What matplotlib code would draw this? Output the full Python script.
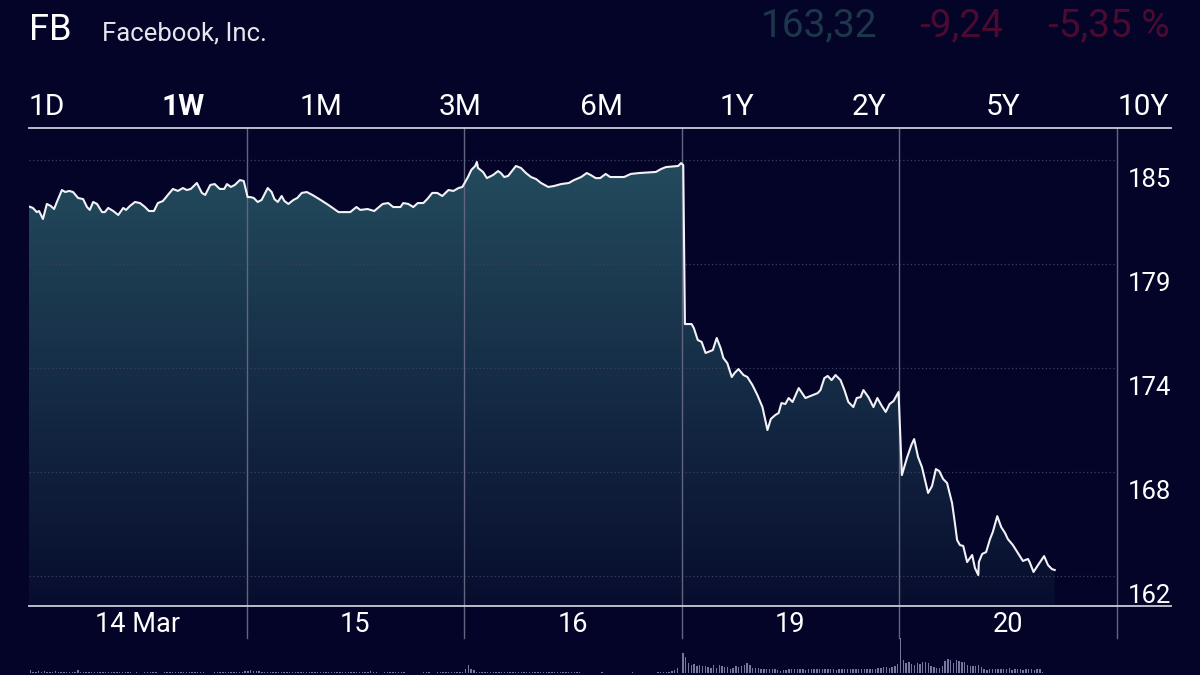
import matplotlib.pyplot as plt
import matplotlib.transforms as mtransforms
from matplotlib.patches import PathPatch
import numpy as np

plt.rcParams['font.family'] = ['Roboto', 'DejaVu Sans']

# ---- data ----
day_labels = ['14 Mar', '15', '16', '19', '20']
periods = ['1D', '1W', '1M', '3M', '6M', '1Y', '2Y', '5Y', '10Y']
grid_levels = [185.1, 179.35, 173.6, 167.85, 162.1]

# minutes since open, price
d14_min = [0, 7, 14, 18, 25, 32, 39, 45, 50, 59, 65, 72, 79, 88, 97, 104, 109, 115, 122, 131,
           136, 142, 151, 160, 169, 174, 181, 190, 199, 208, 215, 224, 231, 240, 249, 258, 267,
           276, 283, 290, 301, 310, 316, 325, 333, 342, 350, 355, 362, 369, 378, 385]
d14_px = [182.53, 182.45, 182.22, 182.28, 181.84, 182.67, 182.56, 182.39, 182.78, 183.44, 183.33,
          183.39, 183.33, 183.00, 182.94, 182.50, 182.34, 182.78, 182.67, 182.22, 182.22, 182.45,
          182.28, 182.06, 182.45, 182.34, 182.56, 182.78, 182.72, 182.50, 182.28, 182.28, 182.72,
          182.83, 183.17, 183.50, 183.39, 183.55, 183.44, 183.50, 183.83, 183.28, 183.17, 183.72,
          183.77, 183.50, 183.50, 183.77, 183.61, 183.72, 183.99, 183.94]

d15_min = [2, 7, 13, 20, 27, 38, 45, 50, 56, 63, 68, 75, 84, 91, 99, 108, 118, 133, 147, 165,
           186, 197, 204, 217, 229, 244, 254, 263, 276, 281, 290, 299, 307, 317, 324, 333, 342,
           351, 362, 371, 380, 387]
d15_px = [183.05, 183.05, 183.00, 182.78, 182.89, 183.55, 183.33, 182.94, 182.78, 183.11, 182.83,
          182.67, 182.89, 183.00, 183.28, 183.33, 183.17, 182.89, 182.61, 182.22, 182.22, 182.50,
          182.34, 182.39, 182.28, 182.67, 182.72, 182.50, 182.50, 182.72, 182.67, 182.50, 182.72,
          182.72, 182.94, 183.28, 183.28, 183.11, 183.44, 183.39, 183.55, 183.61]

d16_min = [7, 13, 20, 23, 25, 34, 41, 52, 61, 66, 72, 79, 93, 102, 111, 120, 129, 138, 151, 161,
           174, 188, 197, 210, 220, 227, 236, 244, 254, 262, 287, 299, 314, 344, 353, 362, 384,
           389, 393]
d16_px = [184.16, 184.55, 184.77, 184.99, 184.66, 184.44, 184.10, 184.27, 184.49, 184.38, 184.16,
          184.22, 184.77, 184.66, 184.38, 184.16, 184.05, 183.83, 183.61, 183.66, 183.77, 183.83,
          183.99, 184.16, 184.38, 184.27, 184.10, 184.10, 184.33, 184.16, 184.16, 184.33, 184.38,
          184.44, 184.60, 184.71, 184.77, 184.93, 184.82]

d19_min = [6, 11, 18, 22, 29, 36, 43, 56, 63, 70, 75, 82, 90, 95, 102, 111, 118, 127, 136, 145,
           154, 160, 168, 174, 179, 186, 192, 199, 210, 222, 235, 244, 249, 256, 262, 269, 276,
           285, 292, 299, 308, 314, 321, 326, 335, 344, 351, 359, 366, 373, 380, 389]
d19_px = [176.03, 176.03, 176.03, 175.81, 175.15, 175.04, 174.43, 174.59, 175.26, 174.70, 174.15,
          173.87, 173.10, 173.32, 173.54, 173.21, 173.10, 172.66, 172.10, 171.44, 170.17, 170.78,
          171.00, 171.11, 171.66, 171.61, 171.94, 171.72, 172.49, 171.94, 172.10, 172.21, 172.38,
          173.04, 173.16, 172.93, 173.21, 172.93, 172.38, 171.72, 171.44, 171.94, 171.99, 172.38,
          171.99, 171.44, 171.94, 171.50, 171.17, 171.61, 171.77, 172.27]

d20_min = [5, 14, 22, 27, 34, 41, 52, 59, 66, 72, 79, 86, 95, 100, 104, 109, 115, 122, 131, 136,
           142, 143, 149, 156, 163, 168, 176, 183, 190, 195, 204, 213, 222, 231, 234, 241, 249,
           260, 267, 274, 279]
d20_px = [167.68, 168.62, 169.34, 169.67, 168.68, 168.12, 166.69, 167.07, 168.01, 167.90, 167.46,
          167.24, 166.13, 165.03, 164.09, 163.81, 163.76, 162.87, 163.26, 162.54, 162.15, 162.87,
          163.32, 163.42, 164.14, 164.53, 165.41, 164.81, 164.47, 164.14, 163.81, 163.37, 162.93,
          163.04, 162.87, 162.32, 162.70, 163.20, 162.70, 162.48, 162.43]

# 5-minute volume bars (relative units)
v14 = [300, 150, 150, 250, 150, 200, 100, 100, 120, 200, 100, 100, 100, 100, 100, 100, 100, 350,
       100, 100, 100, 100, 100, 100, 100, 100, 100, 100, 100, 100, 100, 100, 100, 100, 100, 100,
       100, 0, 100, 0, 0, 100, 100, 100, 100, 100, 0, 0, 100, 100, 100, 100, 100, 100, 100, 100,
       100, 100, 100, 100, 100, 100, 100, 0, 0, 0, 100, 100, 100, 100, 100, 100, 100, 100, 100,
       100, 150, 250]
v15 = [250, 350, 250, 200, 250, 150, 100, 100, 100, 100, 100, 100, 100, 100, 100, 100, 100, 100,
       100, 100, 100, 100, 100, 100, 100, 100, 100, 100, 100, 100, 100, 100, 100, 100, 100, 100,
       100, 100, 100, 100, 100, 100, 100, 100, 200, 100, 100, 0, 0, 100, 100, 100, 100, 100, 100,
       100, 100, 0, 0, 0, 0, 0, 0, 100, 100, 100, 0, 0, 100, 100, 100, 100, 100, 100, 100, 100,
       100, 150]
v16 = [400, 850, 400, 300, 100, 100, 100, 100, 100, 100, 100, 100, 100, 100, 100, 100, 100, 100,
       100, 100, 100, 100, 100, 100, 100, 100, 100, 100, 100, 100, 100, 100, 100, 100, 100, 100,
       100, 100, 100, 100, 100, 100, 0, 0, 0, 0, 0, 0, 0, 100, 0, 0, 0, 0, 0, 0, 0, 0, 0, 0, 150,
       0, 0, 0, 0, 0, 0, 0, 0, 100, 100, 100, 120, 150, 200, 300, 500, 0]
v19 = [2100, 1600, 1000, 800, 900, 700, 800, 700, 700, 600, 500, 800, 500, 800, 700, 600, 600,
       400, 500, 700, 600, 700, 800, 1000, 800, 500, 500, 500, 400, 400, 400, 400, 400, 400, 300,
       200, 300, 300, 400, 400, 400, 400, 400, 400, 350, 400, 400, 400, 400, 400, 400, 400, 400,
       400, 400, 350, 400, 400, 400, 400, 400, 400, 400, 400, 400, 400, 400, 400, 400, 400, 500,
       500, 600, 600, 500, 600, 700, 900]
v20 = [3600, 1300, 1000, 1100, 900, 800, 1000, 900, 1100, 1100, 1000, 700, 600, 500, 500, 700,
       1200, 1400, 1300, 1000, 1300, 1200, 1100, 1100, 800, 700, 700, 700, 800, 600, 400, 300,
       400, 400, 400, 400, 400, 400, 400, 500, 300, 400, 400, 400, 300, 400, 400, 400, 300, 400,
       400, 100]

# ---- build series ----
BG = '#030428'
mins = [d14_min, d15_min, d16_min, d19_min, d20_min]
pxs = [d14_px, d15_px, d16_px, d19_px, d20_px]
x = np.concatenate([d + np.array(m) / 390 for d, m in enumerate(mins)])
y = np.concatenate([np.array(p) for p in pxs])

vols = [v14, v15, v16, v19, v20]
vx = np.concatenate([d + (np.arange(len(v)) * 5 + 2.5) / 390 for d, v in enumerate(vols)])
vy = np.concatenate([np.array(v) for v in vols])

W, H = 1200, 675
fig = plt.figure(figsize=(12, 6.75), dpi=100, facecolor=BG)

ax = fig.add_axes([29 / W, (H - 606) / H, 1142 / W, 478 / H], facecolor=BG)
ylo, yhi = 160.44, 186.87
ax.set_xlim(0, 5.25)
ax.set_ylim(ylo, yhi)
ax.set_xticks([])
ax.set_yticks([])
for s in ['left', 'right']:
    ax.spines[s].set_visible(False)
for s in ['top', 'bottom']:
    ax.spines[s].set_color('#c9cad8')
    ax.spines[s].set_linewidth(1.3)

# gradient fill under the line
top_c = np.array([0.14, 0.30, 0.37])
bot_c = np.array([0.03, 0.05, 0.18])
t = np.linspace(0, 1, 256)[:, None]
grad = (bot_c[None, :] * (1 - t) + top_c[None, :] * t)[:, None, :]
im = ax.imshow(grad, extent=[0, 5.25, ylo, 185.5], origin='lower', aspect='auto', zorder=1)
poly = ax.fill_between(x, y, ylo, color='none')
patch = PathPatch(poly.get_paths()[0], transform=ax.transData, facecolor='none', edgecolor='none')
ax.add_patch(patch)
im.set_clip_path(patch)

# dotted grid
for lvl in grid_levels:
    ax.plot([0, 5], [lvl, lvl], color='#3b3f62', lw=0.9, ls=(0, (1, 2)), zorder=2)
    ax.text(5.25, lvl - 1.1, f'{lvl:.0f}', ha='right', va='center', color='white', fontsize=18.5)

# day separators
for d in range(1, 6):
    ax.axvline(d, ymin=-0.067, ymax=1, color='#62657f', lw=1.0, clip_on=False, zorder=2)

ax.plot(x, y, color='#f2f2f7', lw=1.5, zorder=4, solid_joinstyle='round')

trans = mtransforms.blended_transform_factory(ax.transData, ax.transAxes)
for d, lab in enumerate(day_labels):
    ax.text(d + 0.5, -0.038, lab, transform=trans, ha='center', va='center',
            color='white', fontsize=19.5)

# volume strip
vax = fig.add_axes([29 / W, 2 / H, 1142 / W, 36 / H], facecolor='none')
vax.bar(vx, vy, width=5 / 390 * 0.5, color='#8a8db4', alpha=0.85, linewidth=0)
vax.set_xlim(0, 5.25)
vax.set_ylim(0, 3700)
vax.axis('off')

# header
fig.text(29 / W, 1 - 30 / H, 'FB', color='white', fontsize=26, va='center', ha='left')
fig.text(102 / W, 1 - 33 / H, 'Facebook, Inc.', color='#e6e6ee', fontsize=18.5, va='center', ha='left')
fig.text(877 / W, 1 - 26 / H, '163,32', color='#1c364a', fontsize=28, va='center', ha='right')
fig.text(1003 / W, 1 - 26 / H, '-9,24', color='#4c0a30', fontsize=28, va='center', ha='right')
fig.text(1170 / W, 1 - 26 / H, '-5,35 %', color='#4c0a30', fontsize=28, va='center', ha='right')

pcx = [47, 183, 321, 460, 601, 737, 869, 1003, 1143]
for cx, p in zip(pcx, periods):
    fig.text(cx / W, 1 - 107 / H, p, color='white', fontsize=21.5, va='center', ha='center',
             fontweight='bold' if p == '1W' else 'normal')

fig.savefig('out.png', dpi=100, facecolor=BG)
